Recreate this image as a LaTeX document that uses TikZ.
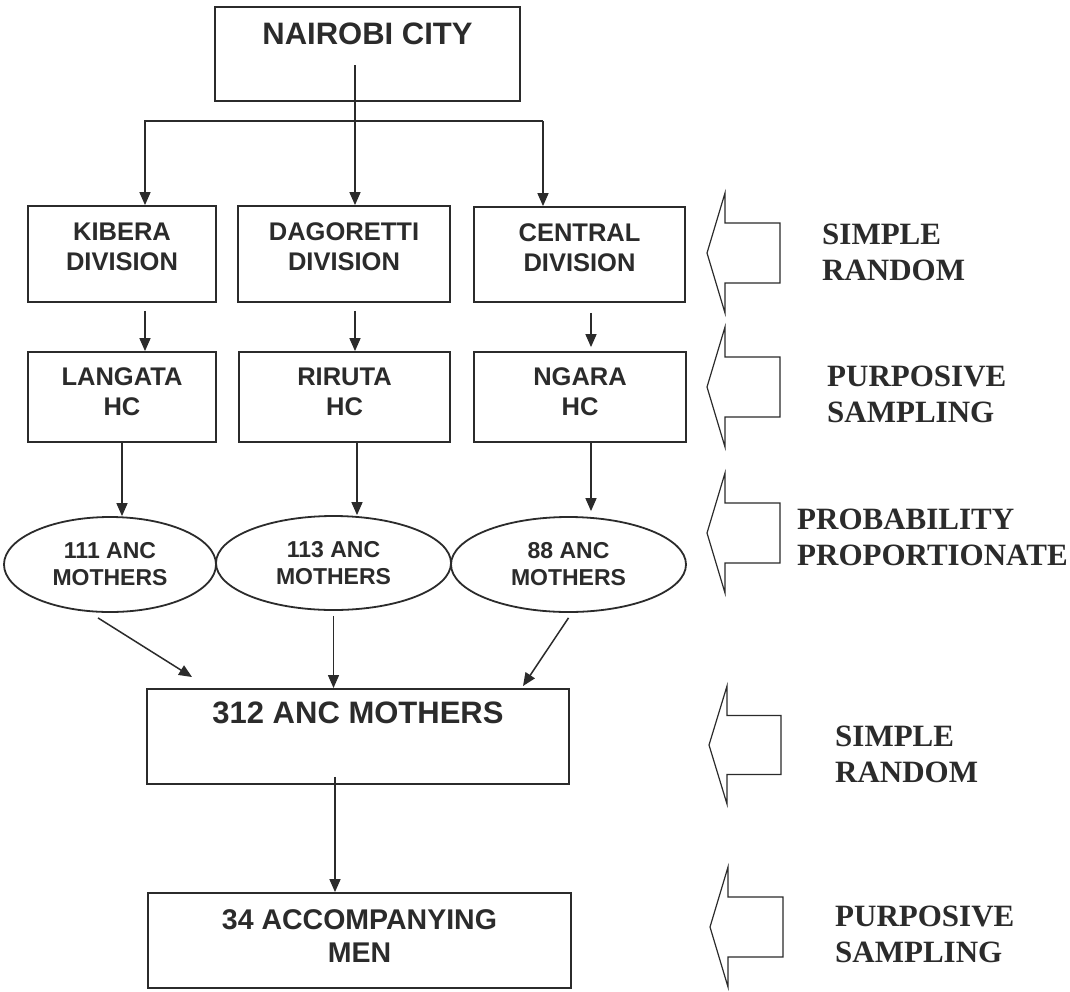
\documentclass[tikz,border=0pt]{standalone}
\usepackage{fontspec}
\setmainfont{Liberation Serif}
\newfontfamily\boxfont{Liberation Sans}
\usetikzlibrary{arrows.meta,shapes.geometric}
\definecolor{ink}{HTML}{2B2B2B}

\begin{document}
\begin{tikzpicture}[
        x=1pt, y=-1pt,
        every node/.style={align=center, inner sep=0pt, text=ink},
        box/.style={draw=ink, line width=1.8pt, text depth=12pt, font=\boxfont\bfseries\fontsize{25.5}{30}\selectfont},
        oval/.style={ellipse, draw=ink, line width=1.8pt, font=\boxfont\bfseries\fontsize{23}{27}\selectfont},
        arr/.style={draw=ink, line width=1.5pt, -{Triangle[length=13pt,width=11pt]}},
        blockarr/.style={draw=ink, line width=1.2pt},
        method/.style={anchor=west, align=left, font=\bfseries\fontsize{31}{36}\selectfont}
        ]
        \useasboundingbox[fill=white] (0,0) rectangle (1070,991);

        \node[box, anchor=north, minimum width=305pt, text height=38pt, text depth=56pt,
              font=\boxfont\bfseries\fontsize{31}{36}\selectfont] (city) at (367.5,6) {NAIROBI CITY};

        \node[box, minimum width=188pt, minimum height=96pt, text depth=14pt] (kib) at (122,254) {KIBERA\\DIVISION};
        \node[box, minimum width=212pt, minimum height=96pt, text depth=14pt] (dag) at (344,254) {DAGORETTI\\DIVISION};
        \node[box, minimum width=211pt, minimum height=95pt, text depth=14pt] (cen) at (579.5,254.5) {CENTRAL\\DIVISION};

        \node[box, minimum width=188pt, minimum height=90pt, text depth=10pt] (lan) at (122,397) {LANGATA\\HC};
        \node[box, minimum width=211pt, minimum height=90pt, text depth=10pt] (rir) at (344.5,397) {RIRUTA\\HC};
        \node[box, minimum width=212pt, minimum height=90pt, text depth=10pt] (nga) at (580,397) {NGARA\\HC};

        \node[oval, minimum width=212pt, minimum height=95pt] (m111) at (110,564.5) {111 ANC\\MOTHERS};
        \node[oval, minimum width=235pt, minimum height=94pt] (m113) at (333.5,563) {113 ANC\\MOTHERS};
        \node[oval, minimum width=235pt, minimum height=95pt] (m88) at (568.5,564.5) {88 ANC\\MOTHERS};

        \node[box, anchor=north, minimum width=422pt, text height=35pt, text depth=60pt,
              font=\boxfont\bfseries\fontsize{31}{36}\selectfont] (pool) at (358,688) {312 ANC MOTHERS};
        \node[box, minimum width=423pt, minimum height=95pt, text depth=8pt,
              font=\boxfont\bfseries\fontsize{28.5}{33}\selectfont] (men) at (359.5,940.5) {34 ACCOMPANYING\\MEN};

        % city to divisions
        \coordinate (trunk) at (355,65);
        \coordinate (bl) at (145,121);
        \coordinate (br) at (543,121);
        \draw[arr] (trunk) -- (trunk |- dag.north);
        \draw[arr] (br) -- (bl) -- (bl |- kib.north);
        \draw[arr] (br) -- (br |- cen.north);

        % divisions to health centres
        \draw[arr] ([xshift=23pt,yshift=-8pt]kib.south) -- ([xshift=23pt]lan.north);
        \draw[arr] ([xshift=11pt,yshift=-8pt]dag.south) -- ([xshift=10.5pt]rir.north);
        \draw[arr] ([xshift=11.5pt,yshift=-10pt]cen.south) -- ([xshift=11pt,yshift=4pt]nga.north);

        % health centres to mothers
        \coordinate (rirout) at ([xshift=12.5pt]rir.south);
        \coordinate (ngaout) at ([xshift=11pt]nga.south);
        \draw[arr] (lan.south) -- (lan.south |- m111.north);
        \draw[arr] (rirout) -- (rirout |- m113.north);
        \draw[arr] (ngaout) -- ([yshift=5pt]ngaout |- m88.north);

        % mothers to pooled sample
        \draw[arr] ([xshift=-12pt,yshift=-5pt]m111.south) -- ([xshift=-166pt,yshift=11pt]pool.north);
        \draw[arr] ([yshift=-5pt]m113.south) -- (m113.south |- pool.north);
        \draw[arr] ([yshift=-5pt]m88.south) -- ([xshift=165pt,yshift=2pt]pool.north);

        \coordinate (poolout) at ([xshift=-23pt,yshift=8pt]pool.south);
        \draw[arr] (poolout) -- (poolout |- men.north);

        % sampling methods
        \draw[blockarr] (707,253) -- ++(18,-60) -- ++(0,30) -- ++(55,0) -- ++(0,60) -- ++(-55,0) -- ++(0,30) -- cycle;
        \draw[blockarr] (707,387) -- ++(18,-60) -- ++(0,30) -- ++(55,0) -- ++(0,60) -- ++(-55,0) -- ++(0,30) -- cycle;
        \draw[blockarr] (707,533) -- ++(18,-60) -- ++(0,30) -- ++(55,0) -- ++(0,60) -- ++(-55,0) -- ++(0,30) -- cycle;
        \draw[blockarr] (709,745) -- ++(18,-59) -- ++(0,29.5) -- ++(54,0) -- ++(0,59) -- ++(-54,0) -- ++(0,29.5) -- cycle;
        \draw[blockarr] (710,927) -- ++(18,-60) -- ++(0,30) -- ++(55,0) -- ++(0,60) -- ++(-55,0) -- ++(0,30) -- cycle;

        \node[method] (lab1) at (822,252) {SIMPLE\\RANDOM};
        \node[method] (lab2) at (827,394) {PURPOSIVE\\SAMPLING};
        \node[method] (lab3) at (797,537) {PROBABILITY\\PROPORTIONATE};
        \node[method] (lab4) at (835,754) {SIMPLE\\RANDOM};
        \node[method] (lab5) at (835,934) {PURPOSIVE\\SAMPLING};
    \end{tikzpicture}
\end{document}
